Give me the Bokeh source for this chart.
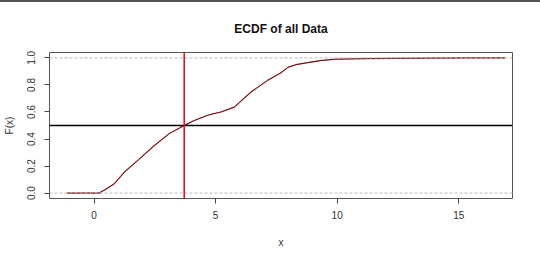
from bokeh.plotting import figure
from bokeh.models import Range1d, Span, FixedTicker, NumeralTickFormatter, Div, Title
from bokeh.layouts import column
from bokeh.embed import file_html
from bokeh.resources import INLINE

# ECDF
ecdf_x = [-1.1, 0.21, 0.5, 0.82, 1.24, 1.85, 2.47, 3.09, 3.71, 4.12, 4.74, 5.22, 5.77,
          6.46, 7.14, 7.69, 7.97, 8.3, 8.79, 9.3, 9.89, 11.1, 15.2, 16.9]
ecdf_y = [0.0, 0.0, 0.03, 0.067, 0.154, 0.25, 0.35, 0.44, 0.5, 0.537, 0.58, 0.6, 0.636,
          0.748, 0.834, 0.89, 0.93, 0.95, 0.965, 0.98, 0.99, 0.995, 1.0, 1.0]
median_x = 3.71
half_level = 0.5
ref_levels = [0.0, 1.0]
x_ticks = [0, 5, 10, 15]
y_ticks = [0.0, 0.2, 0.4, 0.6, 0.8, 1.0]

FONT = "Liberation Sans"

p = figure(width=540, height=259, output_backend="svg", toolbar_location=None,
           x_range=Range1d(-1.83, 17.21), y_range=Range1d(-0.04, 1.04),
           min_border_left=49, min_border_right=28, min_border_top=50, min_border_bottom=63)
p.title = Title(text="ECDF of all Data", align="center", text_font=FONT,
                text_font_size="12px", text_font_style="bold", text_color="#111111",
                offset=0)
p.title.standoff = 33
p.background_fill_color = "white"
p.border_fill_color = "white"
p.outline_line_color = "#555555"
p.outline_line_width = 1
p.xgrid.visible = False
p.ygrid.visible = False

for lv in ref_levels:
    p.add_layout(Span(location=lv, dimension="width", line_color="#b8b8b8",
                      line_dash="3 2", line_width=1))

p.line(ecdf_x, ecdf_y, line_color="#c83030", line_width=1.1)
p.line(ecdf_x, ecdf_y, line_color="#2a0606", line_width=0.8, line_alpha=0.8)

p.add_layout(Span(location=half_level, dimension="width", line_color="black", line_width=1.5))
p.add_layout(Span(location=median_x, dimension="height", line_color="#e0141e", line_width=1.6))

p.xaxis.ticker = FixedTicker(ticks=x_ticks)
p.yaxis.ticker = FixedTicker(ticks=y_ticks)
p.yaxis.formatter = NumeralTickFormatter(format="0.0")
for ax in (p.xaxis[0], p.yaxis[0]):
    ax.axis_line_color = None
    ax.major_tick_line_color = "#444444"
    ax.major_tick_out = 5
    ax.major_tick_in = 0
    ax.minor_tick_line_color = None
    ax.major_label_text_font = FONT
    ax.major_label_text_font_size = "10px"
    ax.major_label_text_color = "#333333"
    ax.axis_label_text_font = FONT
    ax.axis_label_text_font_size = "10px"
    ax.axis_label_text_font_style = "normal"
    ax.axis_label_text_color = "#333333"
p.xaxis.axis_label = "x"
p.xaxis.major_label_standoff = 7
p.xaxis.axis_label_standoff = 15
p.yaxis.axis_label = "F(x)"
p.yaxis.major_label_orientation = "vertical"
p.yaxis.major_label_standoff = 9
p.yaxis.axis_label_standoff = 10

top_bar = Div(width=540, height=2, styles={"background-color": "#555555"}, margin=(0, 0, 0, 0))
layout = column(top_bar, p, spacing=0)

open("out.html", "w").write(file_html(layout, INLINE))
